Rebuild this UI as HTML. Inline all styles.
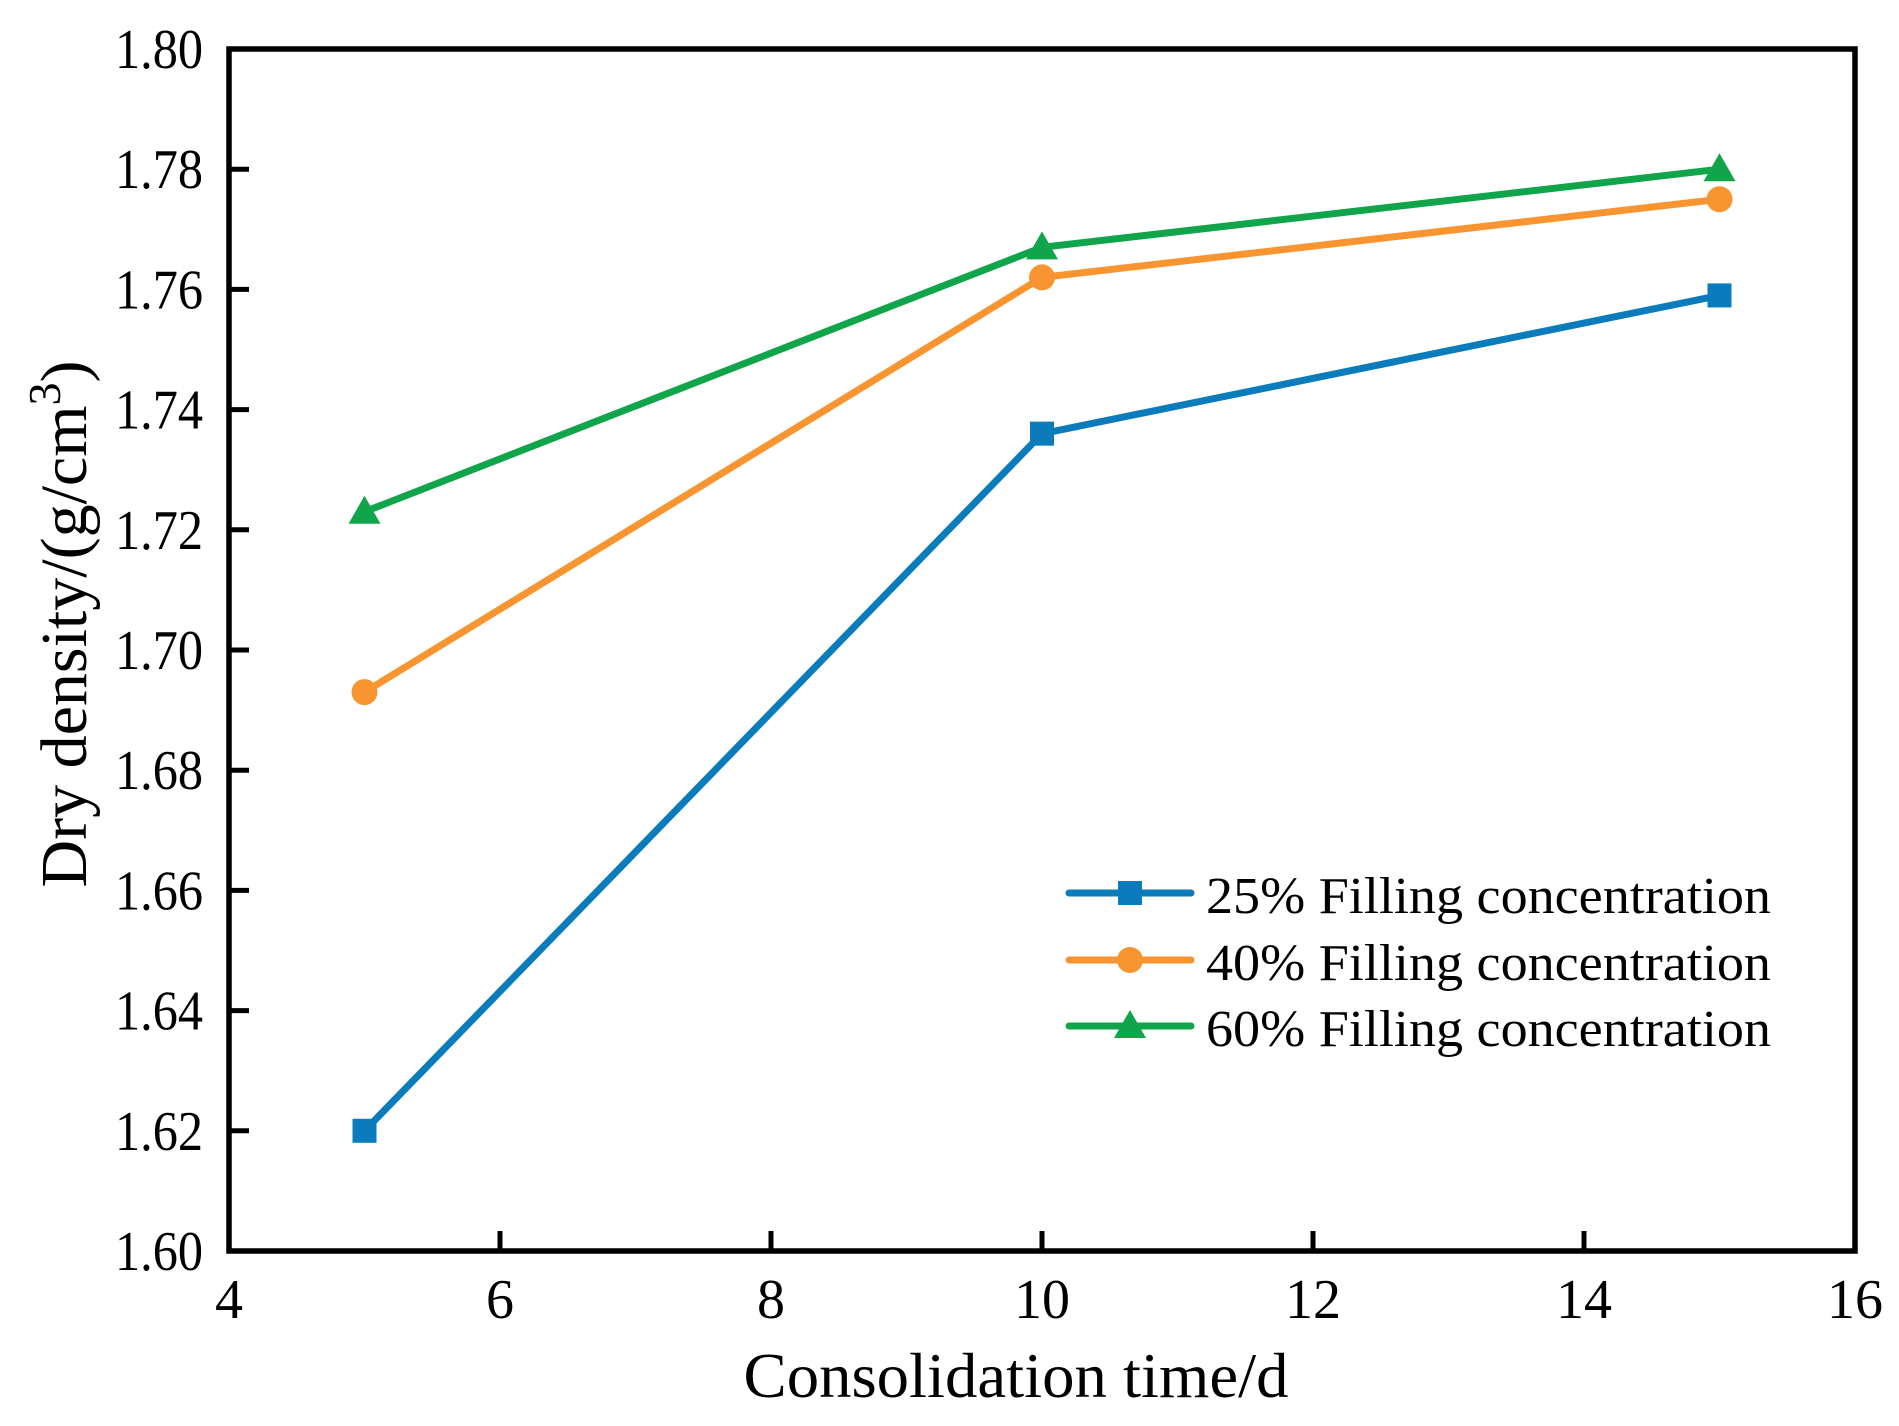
<!DOCTYPE html>
<html><head><meta charset="utf-8"><style>
html,body{margin:0;padding:0;background:#fff;}
svg{display:block;font-family:"Liberation Serif",serif;}
</style></head><body>
<svg id="chart" width="1899" height="1426" viewBox="0 0 1899 1426"></svg>
<script>
const xCategories = [5, 10, 15];
const series25 = [1.620, 1.736, 1.759];
const series40 = [1.693, 1.762, 1.775];
const series60 = [1.723, 1.767, 1.780];
const seriesNames = ["25% Filling concentration", "40% Filling concentration", "60% Filling concentration"];
const xTicks = [4, 6, 8, 10, 12, 14, 16];
const yTicks = [1.60, 1.62, 1.64, 1.66, 1.68, 1.70, 1.72, 1.74, 1.76, 1.78, 1.80];

const L = 229, R = 1855, T = 49, B = 1251;
const NS = "http://www.w3.org/2000/svg";
const svg = document.getElementById('chart');
function xs(v){ return L + (v - 4) / 12 * (R - L); }
function ys(v){ return B - (v - 1.60) / 0.20 * (B - T); }
function mk(tag, attrs, parent){
  const e = document.createElementNS(NS, tag);
  for (const k in attrs) e.setAttribute(k, attrs[k]);
  (parent || svg).appendChild(e);
  return e;
}
const colors = ["#0a7bbb", "#f99530", "#11a54b"];
const allSeries = [series25, series40, series60];

xTicks.forEach(t => {
  const ln = mk('line', {x1: xs(t), x2: xs(t), y1: B, y2: B - 20, stroke: '#000', 'stroke-width': 5});
  
  
  const tx = mk('text', {x: xs(t), y: 1318, 'text-anchor': 'middle', 'font-size': 56});
  tx.textContent = String(t);
  
  
});
yTicks.forEach(t => {
  const ln = mk('line', {x1: L, x2: L + 20, y1: ys(t), y2: ys(t), stroke: '#000', 'stroke-width': 5});
  
  
  const tx = mk('text', {x: 203, y: ys(t) + 19, 'text-anchor': 'end', 'font-size': 56, textLength: 88, lengthAdjust: 'spacingAndGlyphs'});
  tx.textContent = t.toFixed(2);
  
  
});

const frame = mk('rect', {x: L, y: T, width: R - L, height: B - T, fill: 'none', stroke: '#000', 'stroke-width': 5.5});



function marker(i, cx, cy, g){
  let m;
  if (i === 0) m = mk('rect', {x: cx - 12, y: cy - 12, width: 24, height: 24, fill: colors[i]}, g);
  else if (i === 1) m = mk('circle', {cx: cx, cy: cy, r: 13, fill: colors[i]}, g);
  else m = mk('polygon', {points: `${cx},${cy-16} ${cx+16},${cy+12} ${cx-16},${cy+12}`, fill: colors[i]}, g);
  
  
}

allSeries.forEach((s, i) => {
  const g = mk('g', {});
  
  
  const pts = s.map((v, j) => xs(xCategories[j]) + ',' + ys(v)).join(' ');
  const pl = mk('polyline', {points: pts, fill: 'none', stroke: colors[i], 'stroke-width': 7, 'stroke-linejoin': 'round'}, g);
  
  
  s.forEach((v, j) => marker(i, xs(xCategories[j]), ys(v), g));
});

const legY = [893, 960, 1026];
seriesNames.forEach((n, i) => {
  const g = mk('g', {});
  
  
  const ln = mk('line', {x1: 1069, x2: 1191, y1: legY[i], y2: legY[i], stroke: colors[i], 'stroke-width': 7, 'stroke-linecap': 'round'}, g);
  
  
  marker(i, 1130, legY[i], g);
  const tx = mk('text', {x: 1206, y: legY[i] + 20, 'font-size': 52, textLength: 565, lengthAdjust: 'spacingAndGlyphs'}, g);
  tx.textContent = n;
  
  
});

const xt = mk('text', {x: 1016, y: 1397, 'text-anchor': 'middle', 'font-size': 64, textLength: 545, lengthAdjust: 'spacingAndGlyphs'});
xt.textContent = 'Consolidation time/d';



const yt = mk('text', {x: 0, y: 0, 'text-anchor': 'middle', 'font-size': 66, transform: 'translate(86,624) rotate(-90)'});


const t1 = mk('tspan', {}, yt); t1.textContent = 'Dry density/(g/cm';
const t2 = mk('tspan', {dy: -26, 'font-size': 46}, yt); t2.textContent = '3';
const t3 = mk('tspan', {dy: 26}, yt); t3.textContent = ')';
</script>
</body></html>
